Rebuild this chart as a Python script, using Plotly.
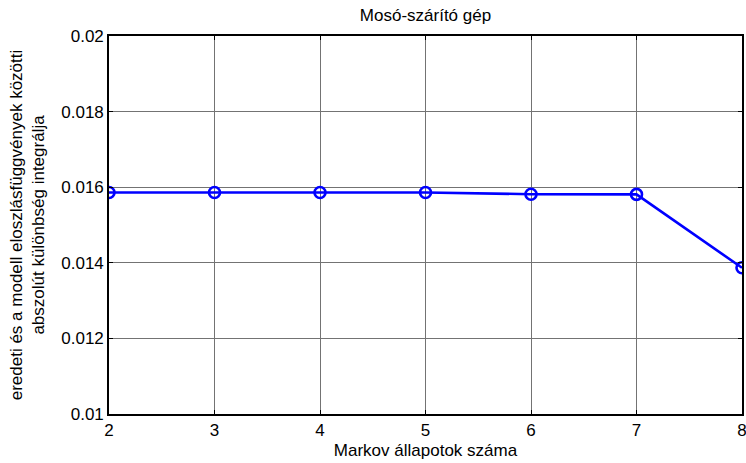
import plotly.graph_objects as go

# Number of Markov states and the integral of the absolute difference
markov_states = [2, 3, 4, 5, 6, 7, 8]
abs_diff_integral = [0.01586, 0.01586, 0.01586, 0.01586, 0.015815, 0.01581, 0.013868]

x_ticks = [2, 3, 4, 5, 6, 7, 8]
y_ticks = [0.01, 0.012, 0.014, 0.016, 0.018, 0.02]
y_tick_text = ["0.01", "0.012", "0.014", "0.016", "0.018", "0.02"]

title_text = "Mosó-szárító gép"
x_title = "Markov állapotok száma"
y_title = "eredeti és a modell eloszlásfüggvények közötti<br>abszolút különbség integrálja"

FONT = "Liberation Sans, Arial, sans-serif"
FS = 17

fig = go.Figure()
fig.add_trace(go.Scatter(
    x=markov_states,
    y=abs_diff_integral,
    mode="lines+markers",
    line=dict(color="#0000ff", width=2.6),
    marker=dict(symbol="circle-open", size=11, color="#0000ff", line=dict(width=2.6)),
    showlegend=False,
))

axis_common = dict(
    automargin=False,
    showline=True,
    linecolor="black",
    linewidth=1.6,
    mirror="ticks",
    ticks="inside",
    ticklen=4,
    tickwidth=1,
    tickcolor="black",
    showgrid=True,
    gridcolor="rgb(115,115,115)",
    gridwidth=1,
    zeroline=False,
    tickfont=dict(family=FONT, size=FS, color="black"),
)

fig.update_layout(
    width=746,
    height=463,
    margin=dict(l=109, r=4, t=36, b=49),
    paper_bgcolor="white",
    plot_bgcolor="white",
    title=dict(
        text=title_text,
        font=dict(family=FONT, size=FS, color="black"),
        x=(109 + 742) / 2 / 746,
        xanchor="center",
        y=1 - 15 / 463,
        yanchor="middle",
    ),
    xaxis=dict(
        range=[2, 8],
        tickmode="array",
        tickvals=x_ticks,
        ticktext=[str(v) for v in x_ticks],
        ticklabeloverflow="allow",
        title=dict(text=x_title, font=dict(family=FONT, size=FS, color="black"), standoff=5),
        **axis_common,
    ),
    yaxis=dict(
        range=[0.01, 0.02],
        tickmode="array",
        tickvals=y_ticks,
        ticktext=y_tick_text,
        title=dict(text=y_title, font=dict(family=FONT, size=FS, color="black"), standoff=12),
        **axis_common,
    ),
)

fig.write_html("out.html")
